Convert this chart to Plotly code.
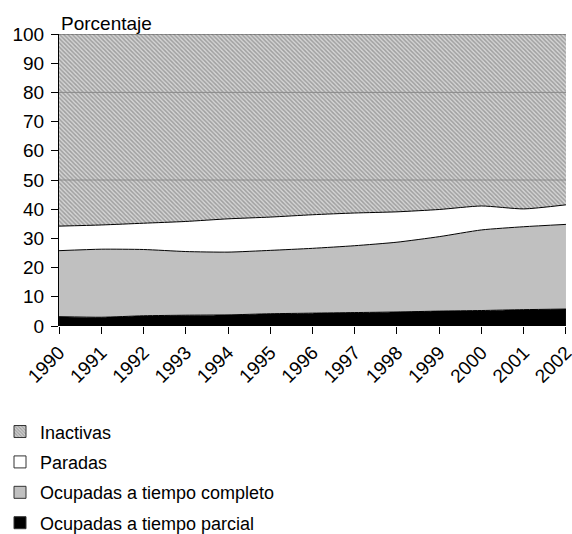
import plotly.graph_objects as go

# Años
years = list(range(1990, 2003))

# Porcentaje de mujeres por situación laboral (lectura aproximada del gráfico)
ocupadas_parcial = [3.2, 3.0, 3.5, 3.7, 3.8, 4.2, 4.4, 4.6, 4.8, 5.1, 5.3, 5.6, 5.8]
ocupadas_completo = [22.6, 23.3, 22.7, 21.8, 21.5, 21.7, 22.2, 22.9, 23.9, 25.5, 27.6, 28.4, 29.0]
paradas = [8.4, 8.3, 9.0, 10.3, 11.4, 11.4, 11.5, 11.2, 10.4, 9.3, 8.2, 6.1, 6.7]
inactivas = [65.8, 65.4, 64.8, 64.2, 63.3, 62.7, 61.9, 61.3, 60.9, 60.1, 58.9, 59.9, 58.5]

y_ticks = list(range(0, 101, 10))
grid_values = [50, 80]

FONT = "Liberation Sans, Arial, sans-serif"

hatch = dict(shape="\\", fgcolor="#6a6a6a", bgcolor="#d4d4d4", size=3, solidity=0.5)

series = [
    ("Ocupadas a tiempo parcial", ocupadas_parcial, "black", None, "black"),
    ("Ocupadas a tiempo completo", ocupadas_completo, "#c0c0c0", None, "black"),
    ("Paradas", paradas, "white", None, "black"),
    ("Inactivas", inactivas, "#a8a8a8", hatch, "#505050"),
]

fig = go.Figure()

for name, vals, color, pattern, lcolor in series:
    extra = {"fillpattern": pattern} if pattern else {}
    fig.add_trace(go.Scatter(
        x=years, y=vals, name=name, showlegend=False,
        mode="lines", stackgroup="one", fillcolor=color,
        line=dict(color=lcolor, width=1, shape="spline", smoothing=0.6),
        **extra,
    ))

# leyenda con cuadrados (trazas vacías de barras), de arriba abajo
for name, vals, color, pattern, lcolor in reversed(series):
    marker = dict(color=color, line=dict(color="#333333", width=1))
    if pattern:
        marker["pattern"] = dict(shape="\\", fgcolor="#6a6a6a", bgcolor="#d4d4d4",
                                 size=3, solidity=0.5)
    fig.add_trace(go.Bar(
        x=[None], y=[None], name=name, marker=marker,
        legendgroup=name, showlegend=True,
    ))

for g in grid_values:
    fig.add_hline(y=g, line=dict(color="#8a8a8a", width=1), layer="above")

fig.add_annotation(
    text="Porcentaje", xref="paper", yref="paper", x=0, y=1,
    xanchor="left", yanchor="bottom", showarrow=False,
    font=dict(size=19, color="black", family=FONT), yshift=-2,
)

fig.update_layout(
    width=572, height=534,
    margin=dict(l=59, r=6, t=34, b=208, autoexpand=False),
    paper_bgcolor="white", plot_bgcolor="white",
    font=dict(family=FONT, size=19, color="black"),
    showlegend=True,
    legend=dict(
        traceorder="grouped",
        tracegroupgap=4,
        xref="container", yref="container",
        x=0, y=0.226, xanchor="left", yanchor="top",
        font=dict(size=18, family=FONT),
        itemwidth=30,
        bgcolor="rgba(0,0,0,0)",
    ),
)

fig.update_xaxes(
    range=[1989.999, 2002.001], tickvals=years, ticktext=[str(y) for y in years],
    tickangle=-45, ticks="outside", ticklen=7, tickcolor="black",
    ticklabeloverflow="allow",
    showgrid=False, zeroline=False, showline=False,
)
fig.update_yaxes(
    range=[0, 100], tickvals=y_ticks, ticks="outside", ticklen=7,
    tickcolor="black", showline=True, linecolor="black", linewidth=1,
    ticklabelstandoff=3,
    showgrid=False, zeroline=False,
)

fig.write_html("out.html", config={"displayModeBar": False},
               post_script="document.body.style.margin='0';")
